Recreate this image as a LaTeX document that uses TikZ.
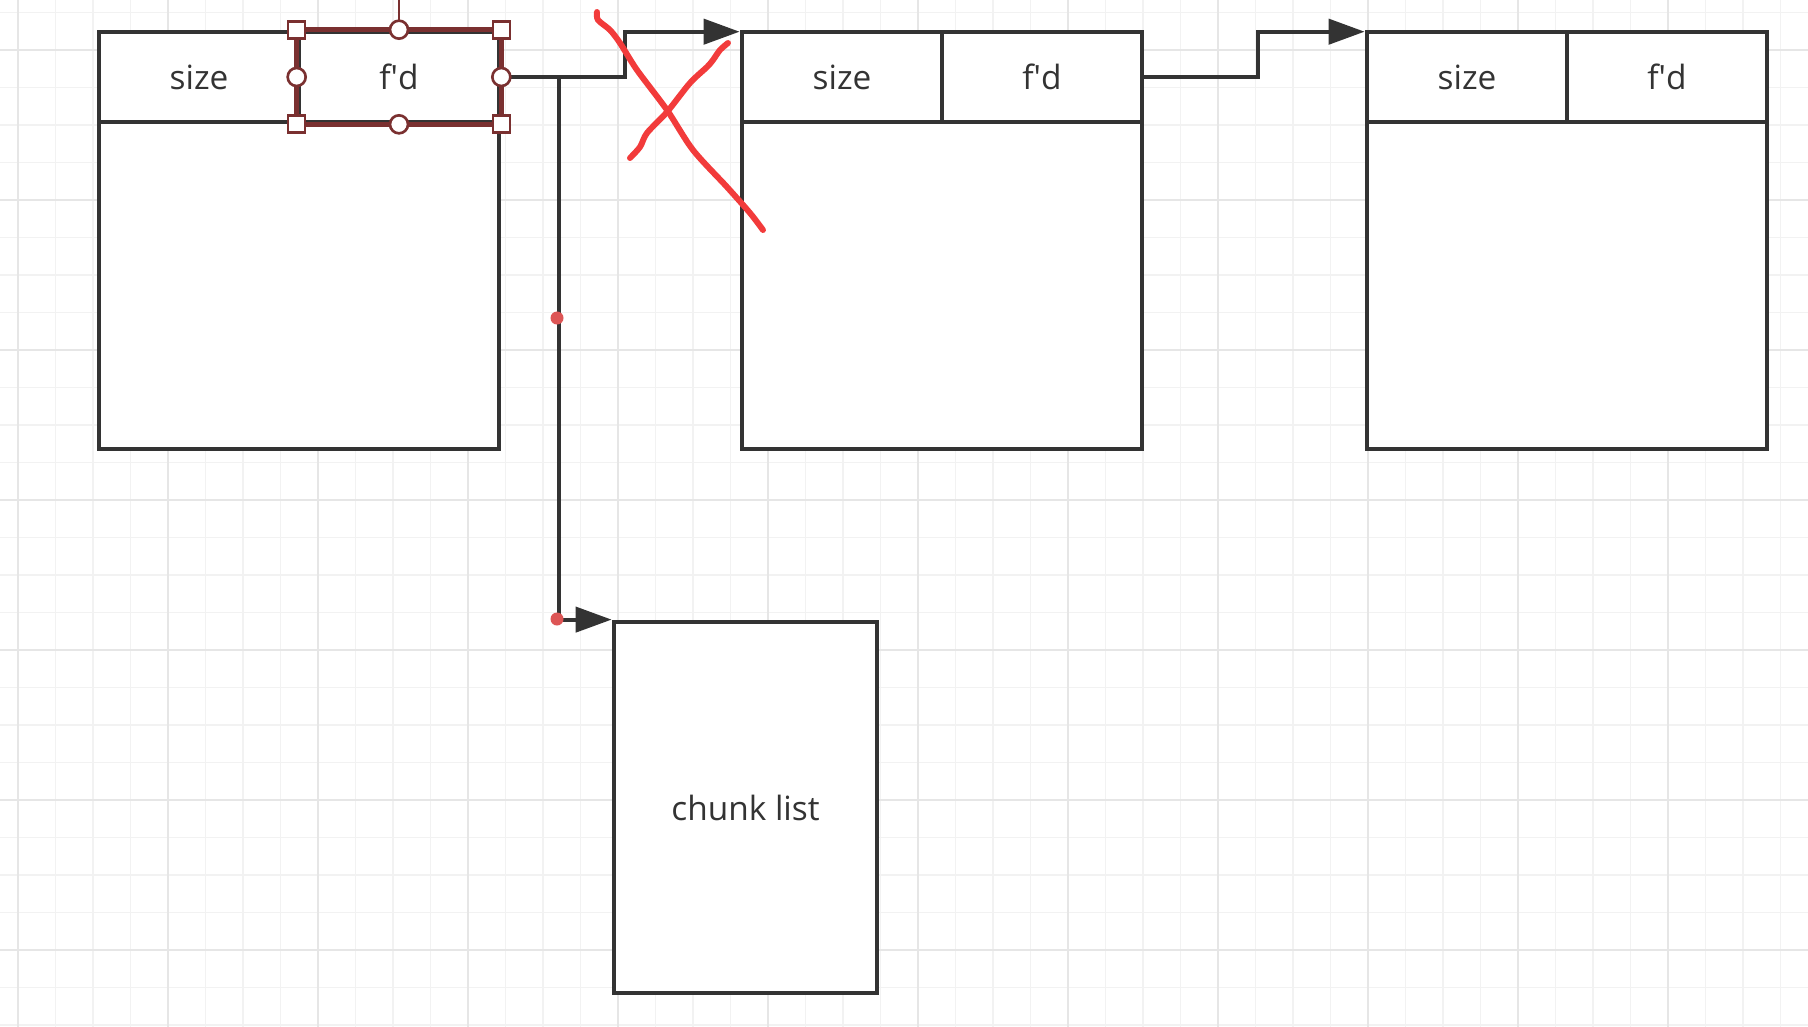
\documentclass[tikz,border=0pt]{standalone}
\usepackage{fontspec}
\setmainfont{Open Sans}
\usetikzlibrary{arrows.meta}
\definecolor{ink}{HTML}{333333}
\definecolor{gridmin}{HTML}{F2F2F2}
\definecolor{gridmaj}{HTML}{E6E6E6}
\definecolor{selred}{HTML}{7A3030}
\definecolor{dotred}{HTML}{DD5555}
\definecolor{penred}{HTML}{F23B3B}
\begin{document}
\begin{tikzpicture}[x=0.01cm, y=-0.01cm,
  cell/.style={draw=ink, line width=1.3pt, fill=white, text=ink, inner sep=0pt,
    minimum width=2cm, minimum height=0.9cm, font=\fontsize{9.5}{11}\selectfont},
  bodybox/.style={draw=ink, line width=1.3pt, fill=white, inner sep=0pt, minimum width=4cm, minimum height=3.27cm},
  link/.style={draw=ink, line width=1.2pt, -{Triangle[length=0.36cm, width=0.25cm]}},
  sqhandle/.style={draw=selred, line width=0.75pt, fill=white, minimum size=0.17cm, inner sep=0pt},
  ochandle/.style={draw=selred, line width=0.75pt, fill=white, circle, minimum size=0.18cm, inner sep=0pt},
  pen/.style={draw=penred, line width=1.7pt, line cap=round, line join=round}]
  \useasboundingbox (0,0) rectangle (1808,1027);
  \fill[white] (0,0) rectangle (1808,1027);
  \foreach \k in {0,...,47} \draw[gridmin, line width=0.55pt] ({18+37.5*\k},0) -- ++(0,1027);
  \foreach \k in {0,...,27} \draw[gridmin, line width=0.55pt] (0,{12.5+37.5*\k}) -- ++(1808,0);
  \foreach \k in {0,...,11} \draw[gridmaj, line width=0.55pt] ({18+150*\k},0) -- ++(0,1027);
  \foreach \k in {0,...,6} \draw[gridmaj, line width=0.55pt] (0,{50+150*\k}) -- ++(1808,0);

  \node[bodybox] (body1) at (299,285.5) {};
  \node[cell] (size1) at (199,77) {size};
  \node[cell] (fd1) at (399,77) {f\textquotesingle d};
  \node[bodybox] (body2) at (942,285.5) {};
  \node[cell] (size2) at (842,77) {size};
  \node[cell] (fd2) at (1042,77) {f\textquotesingle d};
  \node[bodybox] (body3) at (1567,285.5) {};
  \node[cell] (size3) at (1467,77) {size};
  \node[cell] (fd3) at (1667,77) {f\textquotesingle d};
  \node[draw=ink, line width=1.3pt, fill=white, text=ink, inner sep=0pt, minimum width=2.63cm, minimum height=3.71cm,
    font=\fontsize{9.5}{11}\selectfont] (chunk) at (745.5,807.5) {chunk list};

  \draw[link] (fd1.east) -- ++(124,0) |- ([yshift=-0.02cm]size2.north west);
  \draw[link] (fd1.east) -- ++(58,0) |- (chunk.north west);
  \draw[link] (fd2.east) -- ++(114,0) |- ([yshift=-0.02cm]size3.north west);
  \fill[dotred] (557,318) circle (0.065cm);
  \fill[dotred] (557,619) circle (0.065cm);

  \draw[selred, line width=0.5pt] (fd1.north) -- ++(0,-32);
  \draw[selred, line width=1.3pt] (fd1.north west) rectangle (fd1.south east);
  \foreach \a in {north west, north east, south west, south east} \node[sqhandle] at (fd1.\a) {};
  \foreach \a in {north, south, east, west} \node[ochandle] at (fd1.\a) {};

  \draw[pen] plot[smooth] coordinates {(597,12) (598,20) (610,30) (620,43) (637,70) (667,110) (693,150) (727,187) (750,213) (763,230)};
  \draw[pen] plot[smooth] coordinates {(728,43) (720,50) (713,60) (707,67) (690,83) (667,112) (647,133) (640,147) (630,158)};
\end{tikzpicture}
\end{document}
